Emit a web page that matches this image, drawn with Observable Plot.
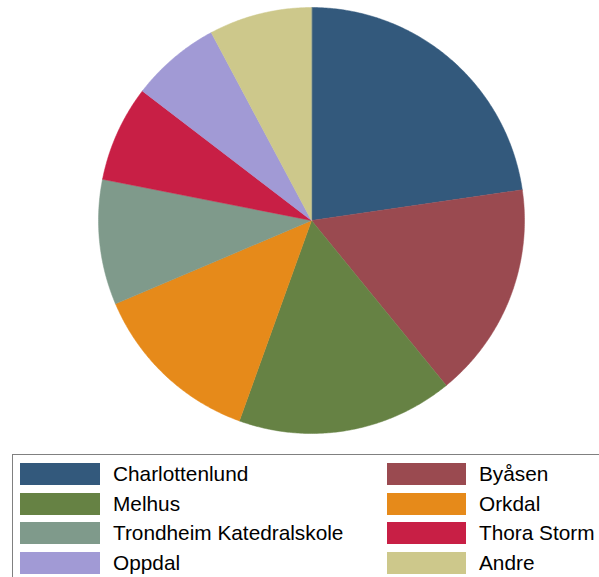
<!DOCTYPE html>
<html><head><meta charset="utf-8">
<script src="https://cdn.jsdelivr.net/npm/d3@7"></script>
<script src="https://cdn.jsdelivr.net/npm/@observablehq/plot@0.6"></script>
<style>
body{margin:0;background:#fff;}
#wrap{position:relative;width:599px;height:577px;overflow:hidden;font-family:Arial,"Liberation Sans",sans-serif;}
#chart{position:absolute;left:0;top:0;}
#legend{position:absolute;left:12px;top:454px;width:640px;height:180px;border:1px solid #808080;box-sizing:border-box;}
.sw{position:absolute;width:80px;height:22px;}
.lb{position:absolute;font-size:20.8px;line-height:22px;white-space:nowrap;color:#000;}
</style></head><body>
<div id="wrap"><div id="chart"></div><div id="legend"></div></div>
<script>
const schools = ["Charlottenlund","Byåsen","Melhus","Orkdal","Trondheim Katedralskole","Thora Storm","Oppdal","Andre"];
const shares = [22.7, 16.4, 16.4, 13.1, 9.5, 7.3, 6.8, 7.8];
const colors = ["#33597c","#9a4a50","#668244","#e68a1a","#7f9a8b","#c81f45","#a19ad5","#cdc88b"];

const arcs = d3.pie().sort(null).value(d => d)(shares);
function ringFor(a0, a1) {
  const pts = [[0, 0]];
  const n = Math.max(2, Math.ceil((a1 - a0) / (Math.PI / 360)));
  for (let i = 0; i <= n; i++) {
    const a = a0 + (a1 - a0) * i / n;
    pts.push([Math.sin(a), Math.cos(a)]);
  }
  pts.push([0, 0]);
  return pts;
}
const features = arcs.map((a, i) => ({
  type: "Feature",
  properties: {name: schools[i]},
  geometry: {type: "Polygon", coordinates: [ringFor(a.startAngle, a.endAngle)]}
}));
const circle = {type: "Polygon", coordinates: [ringFor(0, 2 * Math.PI).slice(1, -1).concat([[0, 1]])]};

const chart = Plot.plot({
  width: 599,
  height: 454,
  marginLeft: 98,
  marginRight: 75,
  marginTop: 7,
  marginBottom: 21,
  projection: {type: "reflect-y", domain: circle},
  color: {domain: schools, range: colors},
  marks: [
    Plot.geo(features, {fill: d => d.properties.name, stroke: d => d.properties.name, strokeWidth: 0.5})
  ]
});
document.getElementById("chart").appendChild(chart);

const legend = document.getElementById("legend");
const colX = [[7, 100], [374, 466]];
schools.forEach((s, i) => {
  const col = i % 2, row = Math.floor(i / 2);
  const top = 8 + row * 29.7;
  const sw = document.createElement("div");
  sw.className = "sw";
  sw.style.left = colX[col][0] + "px";
  sw.style.top = top + "px";
  sw.style.width = (col ? 79 : 80) + "px";
  sw.style.background = colors[i];
  legend.appendChild(sw);
  const lb = document.createElement("div");
  lb.className = "lb";
  lb.style.left = colX[col][1] + "px";
  lb.style.top = top + "px";
  lb.textContent = s;
  legend.appendChild(lb);
});
</script>
</body></html>
